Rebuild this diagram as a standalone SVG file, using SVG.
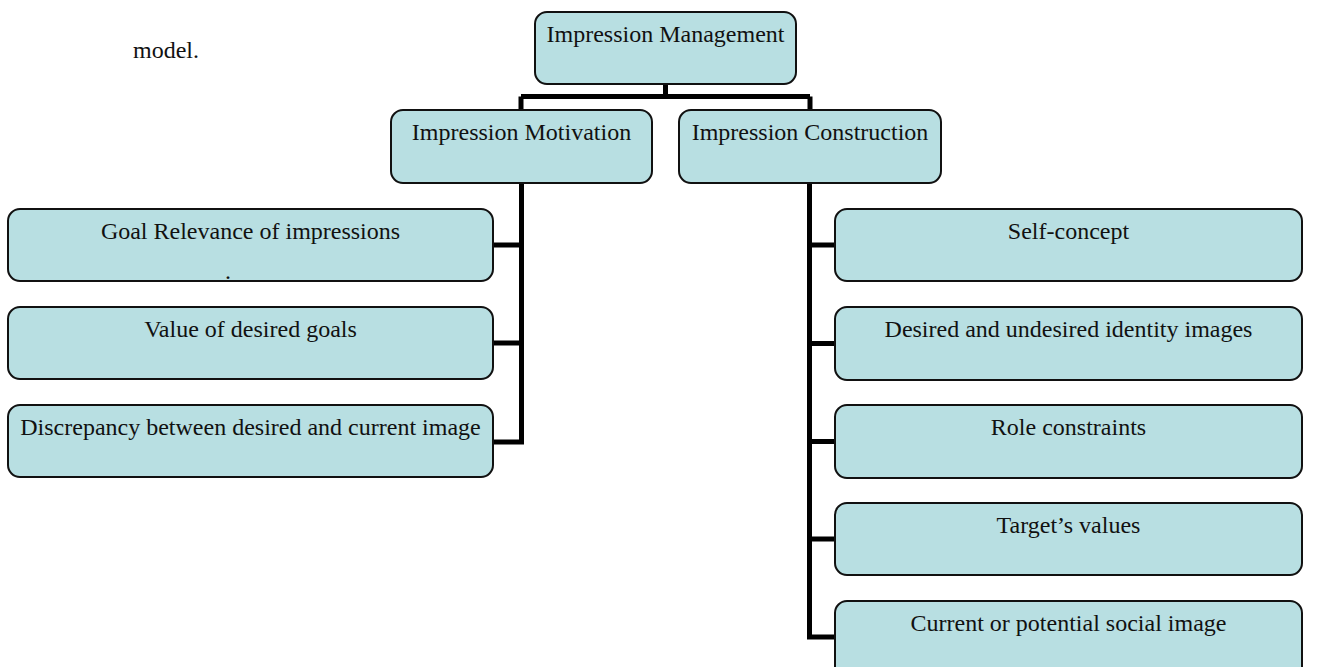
<svg xmlns="http://www.w3.org/2000/svg" width="1322" height="667" viewBox="0 0 1322 667">
<style>
.box{fill:#B8DFE2;stroke:#111;stroke-width:2}
.t{font-family:"Liberation Serif","Times New Roman",serif;font-size:24px;fill:#111;text-anchor:middle}
.c{stroke:#000;stroke-width:5;fill:none}
</style>
<rect width="1322" height="667" fill="#fff"/>
<text x="133" y="58" style="font-family:'Liberation Serif',serif;font-size:24px;fill:#111">model.</text>
<g id="connectors">
<path class="c" d="M665.5 84V96.5M521 96.5H810M521 96.5V110M810 96.5V110"/>
<path class="c" d="M521.5 183V444.5M493 245H521.5M493 343H521.5M493 442H521.5"/>
<path class="c" d="M809.5 183V639.5M809.5 245H835M809.5 343.5H835M809.5 441.5H835M809.5 539H835M809.5 637H835"/>
</g>
<g id="n-management"><rect class="box" x="535" y="12" width="261" height="72" rx="12"/><text class="t" x="665.5" y="42">Impression Management</text></g>
<g id="n-motivation"><rect class="box" x="391" y="110" width="261" height="73" rx="12"/><text class="t" x="521.5" y="140">Impression Motivation</text></g>
<g id="n-construction"><rect class="box" x="679" y="110" width="262" height="73" rx="12"/><text class="t" x="810" y="140">Impression Construction</text></g>
<g id="n-goal"><rect class="box" x="8" y="209" width="485" height="72" rx="12"/><text class="t" x="250.5" y="239">Goal Relevance of impressions</text><text class="t" x="228" y="279">.</text></g>
<g id="n-value"><rect class="box" x="8" y="307" width="485" height="72" rx="12"/><text class="t" x="250.5" y="337">Value of desired goals</text></g>
<g id="n-discrepancy"><rect class="box" x="8" y="405" width="485" height="72" rx="12"/><text class="t" x="250.5" y="435">Discrepancy between desired and current image</text></g>
<g id="n-self"><rect class="box" x="835" y="209" width="467" height="72" rx="12"/><text class="t" x="1068.5" y="239">Self-concept</text></g>
<g id="n-desired"><rect class="box" x="835" y="307" width="467" height="73" rx="12"/><text class="t" x="1068.5" y="337">Desired and undesired identity images</text></g>
<g id="n-role"><rect class="box" x="835" y="405" width="467" height="73" rx="12"/><text class="t" x="1068.5" y="435">Role constraints</text></g>
<g id="n-target"><rect class="box" x="835" y="503" width="467" height="72" rx="12"/><text class="t" x="1068.5" y="533">Target’s values</text></g>
<g id="n-current"><rect class="box" x="835" y="601" width="467" height="80" rx="12"/><text class="t" x="1068.5" y="631">Current or potential social image</text></g>
</svg>
